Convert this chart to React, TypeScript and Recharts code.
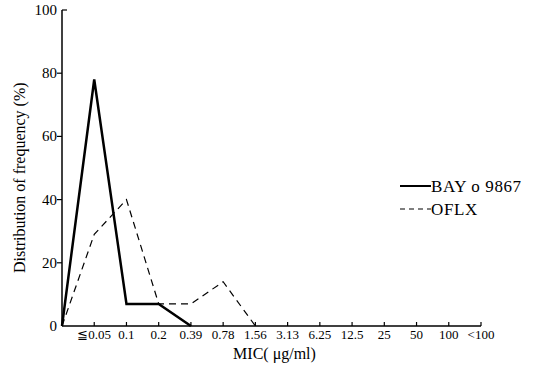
import { LineChart, Line, XAxis, YAxis } from 'recharts'

// MIC steps (µg/ml); index 0 is the origin
const micLabels = ['', '≦0.05', '0.1', '0.2', '0.39', '0.78', '1.56', '3.13', '6.25', '12.5', '25', '50', '100', '<100']
const bayValues = [0, 78, 7, 7, 0]
const oflxValues = [0, 29, 40, 7, 7, 14, 0]
const yTicks = [0, 20, 40, 60, 80, 100]

const data = micLabels.map((_, i) => ({
  idx: i,
  bay: i < bayValues.length ? bayValues[i] : null,
  oflx: i < oflxValues.length ? oflxValues[i] : null,
}))

const FONT = '"Liberation Serif", "Times New Roman", serif'

const XTick = (props: any) => {
  const { x, y, payload } = props
  const label = micLabels[payload.value]
  return (
    <g>
      {payload.value > 0 && <line x1={x} x2={x} y1={y} y2={y - 4} stroke="#000" strokeWidth={1.2} />}
      <text x={x} y={y + 13} textAnchor="middle" fontFamily={FONT} fontSize={13} fill="#000">
        {label}
      </text>
    </g>
  )
}

const YTick = (props: any) => {
  const { x, y, payload } = props
  const top = payload.value === 100
  return (
    <g>
      {payload.value > 0 && (
        <line x1={top ? x : x - 5} x2={top ? x + 5 : x} y1={y} y2={y} stroke="#000" strokeWidth={1.2} />
      )}
      <text x={x - 5} y={y + 5} textAnchor="end" fontFamily={FONT} fontSize={15} fill="#000">
        {payload.value}
      </text>
    </g>
  )
}

export default function App() {
  return (
    <div style={{ position: 'absolute', left: 0, top: 0, background: '#fff' }}>
      <LineChart width={537} height={367} data={data} margin={{ top: 10, right: 56, bottom: 0, left: 20 }}>
        <XAxis
          dataKey="idx"
          type="number"
          domain={[0, 13]}
          ticks={micLabels.map((_, i) => i)}
          interval={0}
          height={41}
          tickLine={false}
          tickSize={0}
          tickMargin={0}
          tick={<XTick />}
          stroke="#000"
          strokeWidth={1.5}
          label={{ value: 'MIC( μg/ml)', position: 'insideBottom', offset: 8, fontFamily: FONT, fontSize: 16, fill: '#000', dx: 3 }}
        />
        <YAxis
          width={42}
          domain={[0, 100]}
          ticks={yTicks}
          tickLine={false}
          tickSize={0}
          tickMargin={0}
          tick={<YTick />}
          stroke="#000"
          strokeWidth={1.5}
          label={{ value: 'Distribution of frequency (%)', angle: -90, position: 'insideLeft', dx: -6, dy: 105, fontFamily: FONT, fontSize: 16, fill: '#000' }}
        />
        <Line dataKey="bay" stroke="#000" strokeWidth={2.5} dot={false} isAnimationActive={false} connectNulls={false} strokeLinejoin="miter" />
        <Line dataKey="oflx" stroke="#000" strokeWidth={1.2} strokeDasharray="7 5" dot={false} isAnimationActive={false} connectNulls={false} />
        <g fontFamily={FONT} fontSize={17} fill="#000" letterSpacing={0.6}>
          <line x1={400} x2={431} y1={186} y2={186} stroke="#000" strokeWidth={2} />
          <text x={431} y={192}>BAY o 9867</text>
          <line x1={400} x2={431} y1={209} y2={209} stroke="#000" strokeWidth={1.2} strokeDasharray="5 4" />
          <text x={431} y={215}>OFLX</text>
        </g>
      </LineChart>
    </div>
  )
}
